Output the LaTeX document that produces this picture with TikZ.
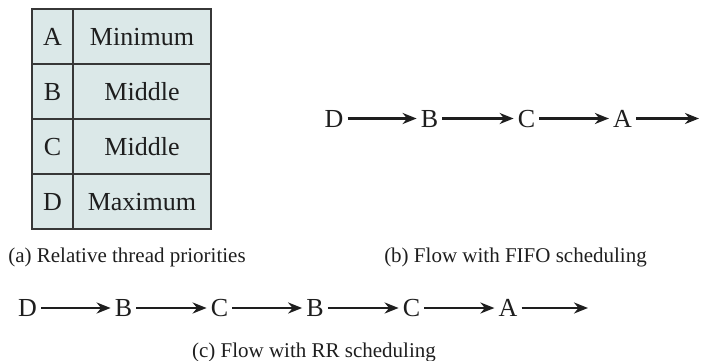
\documentclass[tikz,border=0pt]{standalone}
\usepackage{fontspec}
\setmainfont{Liberation Serif}
\usetikzlibrary{arrows.meta}
\definecolor{cellfill}{RGB}{219,232,232}
\definecolor{rule}{RGB}{55,55,55}
\definecolor{ink}{RGB}{30,30,30}
\newcommand{\bigfont}{\fontsize{26}{30}\selectfont}
\newcommand{\capfont}{\fontsize{21}{25}\selectfont}
\begin{document}
\begin{tikzpicture}[x=1pt,y=-1pt,
  cell/.style={draw=rule, line width=1.1pt, fill=cellfill, minimum height=55pt,
    inner sep=0pt, font=\bigfont, text=ink, text height=17.2pt, text depth=0pt},
  keycell/.style={cell, minimum width=41pt},
  valcell/.style={cell, minimum width=138pt},
  flow/.style={font=\bigfont, text=ink, inner xsep=4pt, inner ysep=0pt,
    text height=17.2pt, text depth=0pt},
  arr/.style={draw=ink, line width=2.2pt, -{Stealth[length=14pt,width=11pt,inset=4.5pt]}},
  caption/.style={font=\capfont, text=ink, inner sep=0pt, anchor=base}]
\useasboundingbox (0,0) rectangle (701,361);
% (a) table
\node[keycell] (kA) at (52.5,36.5) {A};
\node[valcell] (vA) at (142,36.5) {Minimum};
\node[keycell] (kB) at (52.5,91.5) {B};
\node[valcell] (vB) at (142,91.5) {Middle};
\node[keycell] (kC) at (52.5,146.5) {C};
\node[valcell] (vC) at (142,146.5) {Middle};
\node[keycell] (kD) at (52.5,201.5) {D};
\node[valcell] (vD) at (142,201.5) {Maximum};
\node[caption] (capa) at (127,262) {(a) Relative thread priorities};
% (b) FIFO flow
\node[flow] (bD) at (334,118.5) {D};
\node[flow] (bB) at (429.5,118.5) {B};
\node[flow] (bC) at (526.5,118.5) {C};
\node[flow] (bA) at (622.5,118.5) {A};
\coordinate (bEnd) at (699,118.5);
\draw[arr] (bD) -- (bB);
\draw[arr] (bB) -- (bC);
\draw[arr] (bC) -- (bA);
\draw[arr] (bA) -- (bEnd);
\node[caption] (capb) at (515.5,262) {(b) Flow with FIFO scheduling};
% (c) RR flow
\node[flow] (cD) at (27.5,308) {D};
\node[flow] (cB1) at (123.5,308) {B};
\node[flow] (cC1) at (219.5,308) {C};
\node[flow] (cB2) at (315,308) {B};
\node[flow] (cC2) at (411.5,308) {C};
\node[flow] (cA) at (508,308) {A};
\coordinate (cEnd) at (588,308);
\draw[arr] (cD) -- (cB1);
\draw[arr] (cB1) -- (cC1);
\draw[arr] (cC1) -- (cB2);
\draw[arr] (cB2) -- (cC2);
\draw[arr] (cC2) -- (cA);
\draw[arr] (cA) -- (cEnd);
\node[caption] (capc) at (314,357) {(c) Flow with RR scheduling};
\end{tikzpicture}
\end{document}
